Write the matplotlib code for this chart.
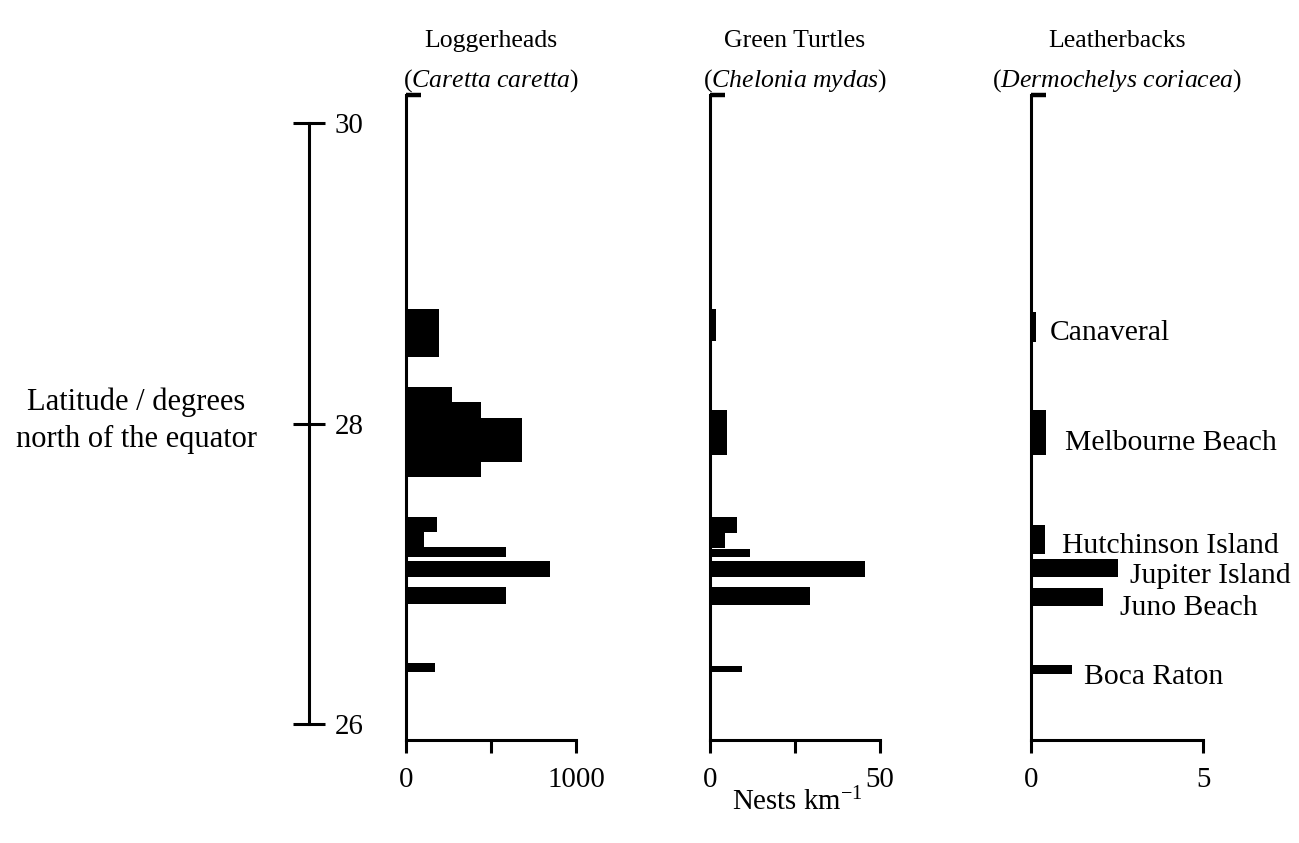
import matplotlib
matplotlib.use("Agg")
import matplotlib.pyplot as plt

plt.rcParams['font.family'] = ['Liberation Serif', 'DejaVu Serif']
plt.rcParams['mathtext.fontset'] = 'custom'
plt.rcParams['mathtext.rm'] = 'Liberation Serif'
plt.rcParams['mathtext.it'] = 'Liberation Serif:italic'

# ---------------- data ----------------
# latitude bin centres (deg N), bin heights (deg), nests per km
logger_lat = [28.60, 28.193, 28.090, 27.890, 27.694, 27.330, 27.230, 27.147, 27.033, 26.855, 26.376]
logger_h   = [0.32, 0.10, 0.106, 0.293, 0.10, 0.10, 0.10, 0.066, 0.107, 0.111, 0.056]
logger_val = [195, 271, 440, 680, 440, 185, 105, 590, 845, 590, 170]

green_lat = [28.655, 27.938, 27.327, 27.222, 27.140, 27.033, 26.852, 26.368]
green_h   = [0.21, 0.30, 0.107, 0.10, 0.05, 0.107, 0.12, 0.04]
green_val = [1.7, 4.9, 7.9, 4.4, 11.7, 45.6, 29.5, 9.3]

leather_lat = [28.642, 27.940, 27.230, 27.038, 26.845, 26.363]
leather_h   = [0.20, 0.30, 0.19, 0.116, 0.116, 0.06]
leather_val = [0.15, 0.45, 0.42, 2.54, 2.08, 1.20]

site_names = ["Canaveral", "Melbourne Beach", "Hutchinson Island",
              "Jupiter Island", "Juno Beach", "Boca Raton"]
site_lat = [28.556, 27.824, 27.138, 26.938, 26.726, 26.267]
site_x = [0.55, 0.99, 0.90, 2.88, 2.60, 1.55]

species = ["Loggerheads", "Green Turtles", "Leatherbacks"]
sci_names = ["Caretta caretta", "Chelonia mydas", "Dermochelys coriacea"]
xmax = [1000, 50, 5]
xticks = [[0, 500, 1000], [0, 25, 50], [0, 5]]
xticklabels = [["0", "", "1000"], ["0", "", "50"], ["0", "5"]]
lat_ticks = [26, 28, 30]

# ---------------- figure ----------------
W, H = 1299, 843
fig = plt.figure(figsize=(W / 100, H / 100), dpi=100)
FS = 21.3      # site labels
HFS = 18.5     # panel headers
LFS = 22.0     # latitude label
TFS = 20.8     # tick labels
NFS = 20.8     # x label
LW = 2.2

ybot = 1 - 740 / H
ytop = 1 - 95 / H
ylim = (25.894, 30.186)

panel_left = [406, 710, 1031]
panel_width = [170, 170, 172]
datasets = [(logger_lat, logger_h, logger_val),
            (green_lat, green_h, green_val),
            (leather_lat, leather_h, leather_val)]

axes = []
for i in range(3):
    ax = fig.add_axes([panel_left[i] / W, ybot, panel_width[i] / W, ytop - ybot])
    lat, hh, val = datasets[i]
    ax.barh(lat, val, height=hh, color='black', edgecolor='none', align='center')
    ax.set_xlim(0, xmax[i])
    ax.set_ylim(*ylim)
    for s in ['top', 'right']:
        ax.spines[s].set_visible(False)
    for s in ['left', 'bottom']:
        ax.spines[s].set_linewidth(LW)
    ax.set_xticks(xticks[i])
    ax.set_xticklabels(xticklabels[i], fontsize=TFS)
    ax.tick_params(axis='x', direction='out', length=9.4, width=LW, pad=10)
    ax.set_yticks([ylim[1]])
    ax.set_yticklabels([])
    ax.tick_params(axis='y', direction='in', length=10.5, width=3.2, left=True)
    axes.append(ax)

    cx = (panel_left[i] + panel_width[i] / 2) / W
    fig.text(cx, 1 - 41 / H, species[i], ha='center', va='center', fontsize=HFS)
    fig.text(cx, 1 - 81 / H, "(" + r"$\mathit{" + sci_names[i].replace(" ", r"\ ") + "}$" + ")",
             ha='center', va='center', fontsize=HFS)

# site labels on leatherback panel
for name, x, y in zip(site_names, site_x, site_lat):
    axes[2].text(x, y, name, ha='left', va='baseline', fontsize=FS, clip_on=False)

# latitude scale
lax = fig.add_axes([299 / W, ybot, 10 / W, ytop - ybot])
lax.set_ylim(*ylim)
lax.set_xlim(0, 1)
for s in ['top', 'left', 'bottom']:
    lax.spines[s].set_visible(False)
lax.spines['right'].set_linewidth(LW)
lax.spines['right'].set_bounds(26, 30)
lax.patch.set_visible(False)
lax.set_xticks([])
lax.yaxis.set_ticks_position('right')
lax.set_yticks(lat_ticks)
lax.set_yticklabels([str(t) for t in lat_ticks], fontsize=TFS)
lax.tick_params(axis='y', direction='inout', length=23, width=LW, pad=7)

fig.text(136 / W, 1 - 421 / H, "Latitude / degrees\nnorth of the equator",
         ha='center', va='center', fontsize=LFS, linespacing=1.36)

fig.text(797 / W, 1 - 802 / H, r"Nests km$^{\mathrm{-1}}$", ha='center', va='center', fontsize=NFS)

fig.savefig("out.png", dpi=100)
